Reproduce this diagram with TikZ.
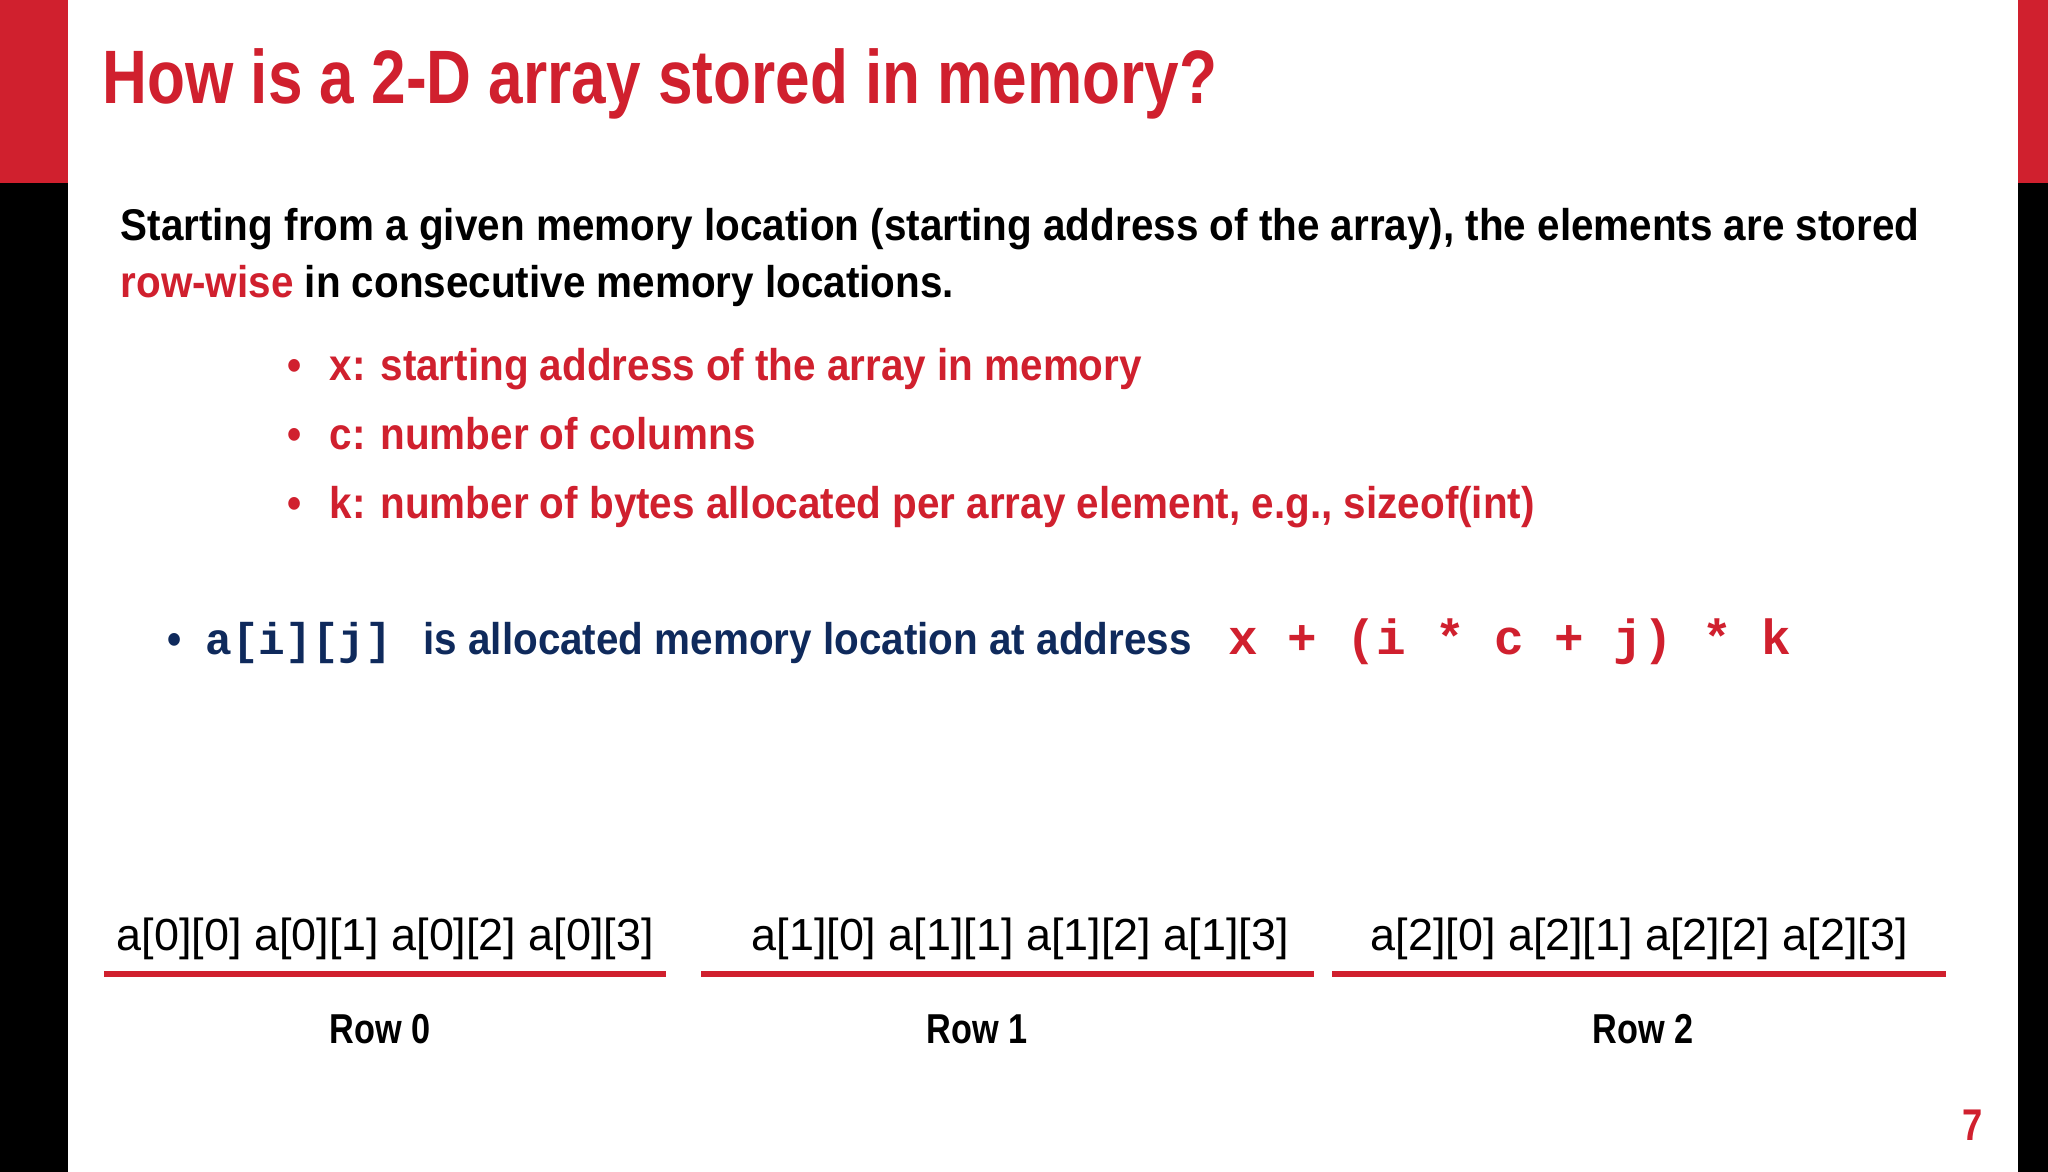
\documentclass[tikz,border=0pt]{standalone}
\usepackage{fontspec}
\setmainfont{Liberation Sans}
\newfontfamily\narrowf[FakeStretch=0.82]{Liberation Sans}
\newfontfamily\bodyf[FakeStretch=0.91]{Liberation Sans}
\newfontfamily\monof{Liberation Mono}
\definecolor{myred}{HTML}{D0202E}
\definecolor{navy}{HTML}{0F2A5C}
\tikzset{
  body/.style={anchor=base west,inner sep=0pt,font=\bodyf\bfseries\fontsize{17}{20}\selectfont},
  lab/.style={anchor=base,inner sep=0pt,font=\fontsize{17.2}{20}\selectfont},
  rowl/.style={anchor=base,inner sep=0pt,font=\narrowf\bfseries\fontsize{16}{19}\selectfont},
  rline/.style={draw=myred,line width=2.2pt}
}
\begin{document}
\begin{tikzpicture}[x=0.5pt,y=-0.5pt]
\useasboundingbox (0,0) rectangle (1568,897);
\fill[white] (0,0) rectangle (1568,897);
\fill[black] (0,0) rectangle (52,897);
\fill[myred] (0,0) rectangle (52,140);
\fill[black] (1545,0) rectangle (1568,897);
\fill[myred] (1545,0) rectangle (1568,140);
\node[anchor=base west,inner sep=0pt,text=myred,font=\narrowf\bfseries\fontsize{29}{34}\selectfont] (title) at (78,79) {How is a 2-D array stored in memory?};
\node[body] (p1) at (92,184) {Starting from a given memory location (starting address of the array), the elements are stored};
\node[body] (p2) at (92,228) {\textcolor{myred}{row-wise} in consecutive memory locations.};
\foreach \y/\t [count=\i] in {291/{x: starting address of the array in memory},344/{c: number of columns},397/{k: number of bytes allocated per array element, e.g., sizeof(int)}}{
  \node[body,text=myred] (bd\i) at (220,\y) {•};
  \node[body,text=myred] (b\i) at (252,\y) {\t};
}
\node[body,text=navy] (bu) at (128,501) {•};
\node[body,text=navy] (aij) at (157,501) {{\monof\bfseries\fontsize{17}{20}\selectfont a[i][j]}\hspace{12pt}is allocated memory location at address};
\node[anchor=base west,inner sep=0pt,text=myred,font=\monof\bfseries\fontsize{18.9}{22}\selectfont] (f) at (940,501) {x + (i * c + j) * k};
\foreach \c/\r [count=\i] in {295/0,781/1,1255/2}{
  \node[lab] (l\i) at (\c,728) {a[\r][0] a[\r][1] a[\r][2] a[\r][3]};
}
\coordinate (s1) at (80,746); \coordinate (e1) at (510,746);
\coordinate (s2) at (537,746); \coordinate (e2) at (1006,746);
\coordinate (s3) at (1020,746); \coordinate (e3) at (1490,746);
\foreach \i in {1,2,3}{\draw[rline] (s\i) -- (e\i);}
\node[rowl] (r0) at (291,799) {Row 0};
\node[rowl] (r1) at (748,799) {Row 1};
\node[rowl] (r2) at (1258,799) {Row 2};
\node[anchor=base,inner sep=0pt,text=myred,font=\narrowf\bfseries\fontsize{17}{20}\selectfont] (pg) at (1510,873) {7};
\end{tikzpicture}
\end{document}
